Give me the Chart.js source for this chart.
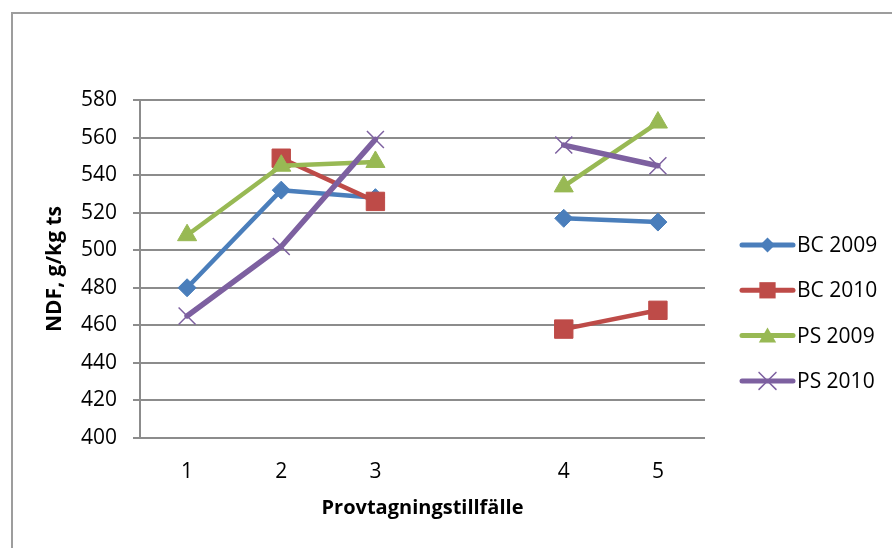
<!DOCTYPE html>
<html>
<head>
<meta charset="utf-8">
<script src="https://cdn.jsdelivr.net/npm/chart.js@4.4.0/dist/chart.umd.min.js"></script>
<style>
  html, body { margin: 0; padding: 0; background: #fff; }
  #wrap { width: 892px; height: 548px; }
</style>
</head>
<body>
<div id="wrap"><canvas id="ndfChart" width="892" height="548"></canvas></div>
<script>
// categories (the empty slot is the gap between occasion 3 and 4)
const occasions = ["1", "2", "3", "", "4", "5"];

// NDF, g/kg ts
const bc2009 = [480, 532, 528, null, 517, 515];
const bc2010 = [null, 549, 526, null, 458, 468];
const ps2009 = [508, 545, 547, null, 534, 568];
const ps2010 = [465, 502, 559, null, 556, 545];

const yTicks = [400, 420, 440, 460, 480, 500, 520, 540, 560, 580];

const FONT = "'Open Sans', 'DejaVu Sans', sans-serif";
const GRID = "#8c8c8c";

/* =========================
   PLUGINS
========================= */

const background = {
  id: "background",
  beforeDraw(chart) {
    const ctx = chart.ctx;
    ctx.save();
    ctx.fillStyle = "#fff";
    ctx.fillRect(0, 0, chart.width, chart.height);
    // outer chart frame, only left/top are inside the picture
    ctx.strokeStyle = "#9d9d9d";
    ctx.lineWidth = 2;
    ctx.strokeRect(12, 13, chart.width + 20, chart.height + 20);
    ctx.restore();
  }
};

function marker(ctx, style, x, y, r, color) {
  ctx.save();
  ctx.fillStyle = color;
  ctx.strokeStyle = color;
  ctx.lineWidth = 1.5;
  ctx.beginPath();
  if (style === "rectRot") {
    ctx.moveTo(x, y - r); ctx.lineTo(x + r, y); ctx.lineTo(x, y + r); ctx.lineTo(x - r, y);
    ctx.closePath(); ctx.fill();
  } else if (style === "rect") {
    const s = r * Math.SQRT1_2;
    ctx.rect(x - s, y - s, 2 * s, 2 * s); ctx.fill();
  } else if (style === "triangle") {
    ctx.moveTo(x, y - r);
    ctx.lineTo(x + r * 0.866, y + r * 0.5);
    ctx.lineTo(x - r * 0.866, y + r * 0.5);
    ctx.closePath(); ctx.fill();
  } else {
    const s = r * Math.SQRT1_2;
    ctx.moveTo(x - s, y - s); ctx.lineTo(x + s, y + s);
    ctx.moveTo(x - s, y + s); ctx.lineTo(x + s, y - s);
    ctx.stroke();
  }
  ctx.restore();
}

const sideLegend = {
  id: "sideLegend",
  afterDraw(chart) {
    const ctx = chart.ctx;
    const x0 = 742, x1 = 793, top = 245, step = 45.3;
    const legendSize = { rectRot: 7.5, rect: 11.5, triangle: 10, crossRot: 12 };
    ctx.save();
    chart.data.datasets.forEach((ds, i) => {
      const y = top + i * step;
      ctx.strokeStyle = ds.borderColor;
      ctx.lineWidth = 5;
      ctx.lineCap = "round";
      ctx.beginPath();
      ctx.moveTo(x0, y);
      ctx.lineTo(x1, y);
      ctx.stroke();
      marker(ctx, ds.pointStyle, (x0 + x1) / 2, y + (ds.pointStyle === "triangle" ? 2 : 0),
        legendSize[ds.pointStyle], ds.borderColor);
      ctx.fillStyle = "#000";
      ctx.font = "21px " + FONT;
      ctx.textBaseline = "middle";
      ctx.textAlign = "left";
      ctx.fillText(ds.label, 797, y + 1);
    });
    ctx.restore();
  }
};

/* =========================
   CHART
========================= */

function series(label, data, color, style, radius, width, order) {
  return {
    label,
    data,
    borderColor: color,
    backgroundColor: color,
    borderWidth: width,
    borderJoinStyle: "round",
    borderCapStyle: "round",
    pointStyle: style,
    pointRadius: radius,
    pointHoverRadius: radius,
    pointBackgroundColor: color,
    pointBorderColor: color,
    pointBorderWidth: style === "crossRot" ? 1.5 : 1,
    spanGaps: false,
    tension: 0,
    order
  };
}

const chart = new Chart(document.getElementById("ndfChart"), {
  type: "line",
  data: {
    labels: occasions,
    datasets: [
      series("BC 2009", bc2009, "#4A7EBB", "rectRot", 9, 4.5, 3),
      series("BC 2010", bc2010, "#BE4B48", "rect", 13, 4.5, 2),
      series("PS 2009", ps2009, "#98B954", "triangle", 11, 4.5, 1),
      series("PS 2010", ps2010, "#7D60A0", "crossRot", 12, 5.5, 0)
    ]
  },
  options: {
    responsive: false,
    animation: false,
    devicePixelRatio: 1,
    layout: { padding: { left: 0, top: 100, right: 187, bottom: 0 } },
    plugins: {
      legend: { display: false },
      tooltip: { enabled: false }
    },
    scales: {
      x: {
        type: "category",
        offset: true,
        grid: { display: false, drawTicks: false },
        border: { display: false },
        ticks: {
          color: "#000",
          font: { family: FONT, size: 21 },
          padding: 21,
          maxRotation: 0,
          autoSkip: false
        },
        title: {
          display: true,
          text: "Provtagningstillfälle",
          color: "#000",
          font: { family: FONT, size: 20, weight: "bold" },
          padding: { top: 0, bottom: 28 }
        },
        afterFit(scale) { scale.height = 110; }
      },
      y: {
        min: 400,
        max: 580,
        afterBuildTicks(scale) { scale.ticks = yTicks.map(v => ({ value: v })); },
        grid: { color: GRID, lineWidth: 2, tickLength: 7, drawTicks: true },
        border: { display: true, color: GRID, width: 2 },
        ticks: {
          color: "#000",
          font: { family: FONT, size: 21 },
          padding: 16
        },
        title: {
          display: true,
          text: "NDF, g/kg ts",
          color: "#000",
          font: { family: FONT, size: 21, weight: "bold" },
          padding: { top: 42, bottom: 0 }
        },
        afterFit(scale) { scale.width = 140; }
      }
    }
  },
  plugins: [background, sideLegend]
});
</script>
</body>
</html>
